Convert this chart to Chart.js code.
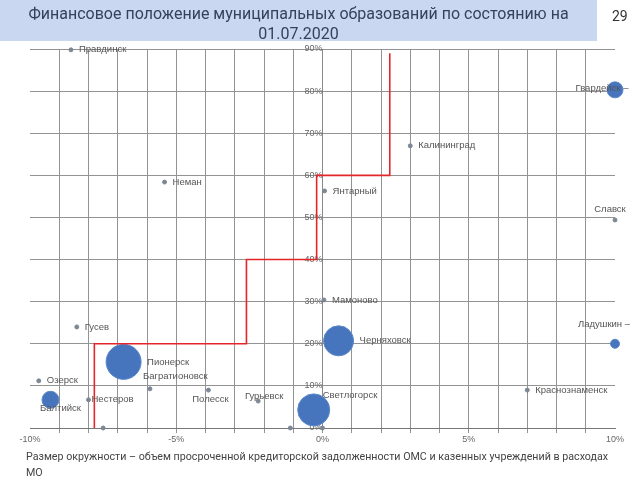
<!DOCTYPE html>
<html>
<head>
<meta charset="utf-8">
<script src="https://cdn.jsdelivr.net/npm/chart.js@4/dist/chart.umd.min.js"></script>
<style>
body{margin:0;width:640px;height:480px;position:relative;background:#fff;font-family:Roboto,"Liberation Sans",sans-serif;overflow:hidden}
#title{position:absolute;left:0;top:0;width:597px;height:37px;padding-top:4px;background:#c9d7f1;color:#34435a;font-size:16px;line-height:20px;text-align:center}
#page{position:absolute;left:612px;top:8px;font-size:14px;color:#333}
#note{position:absolute;left:26px;top:449px;width:610px;font-size:10.7px;line-height:16px;color:#444}
canvas{position:absolute;left:0;top:0}
</style>
</head>
<body>
<canvas id="bubbleChart" width="640" height="480"></canvas>
<div id="title">Финансовое положение муниципальных образований по состоянию на<br>01.07.2020</div>
<div id="page">29</div>
<div id="note">Размер окружности – объем просроченной кредиторской задолженности ОМС и казенных учреждений в расходах<br>МО</div>
<script>
// municipalities: x = change, %, y = share, %, debt = relative overdue debt (circle size)
let names = ["Правдинск","Неман","Гусев","Озерск","Балтийск","Нестеров","Пионерск","Багратионовск","Полесск","Гурьевск","","","","Светлогорск","Черняховск","Мамоново","Янтарный","Калининград","Гвардейск –","Славск","Ладушкин –","Краснознаменск"]
let xValues = [-8.6,-5.4,-8.4,-9.7,-9.3,-8.0,-6.8,-5.9,-3.9,-2.2,-7.5,-1.1,0,-0.3,0.55,0.05,0.07,3.0,10,10,10,7.0]
let yValues = [89.8,58.4,24.0,11.2,6.7,6.7,15.7,9.3,9.0,6.4,0,0,0,4.3,20.7,30.4,56.3,67.0,80.3,49.4,20.0,9.0]
let debt = [0,0,0,0,1.7,0,3.5,0,0,0,0,0,0,3.2,3.0,0,0,0,1.6,0,0.9,0]

// red threshold steps
let stepX = [-7.8,-2.6,-0.2,2.3]
let stepY = [0,20,40,60,89]

let xTicks = [-10,-5,0,5,10]

// label placement around each point: [dx, dy, align]
let labelPlace = {
"Балтийск":[10,9,"center"],
"Нестеров":[3,0,"left"],
"Багратионовск":[-7,-12,"left"],
"Полесск":[2,9,"center"],
"Гурьевск":[6,-5,"center"],
"Гвардейск –":[-13,-1,"center"],
"Славск":[-5,-11,"center"],
"Ладушкин –":[-11,-19,"center"],
"Светлогорск":[9,-15,"left"]
}

let bubbles = names.map((n,i)=>({x:xValues[i],y:yValues[i],r:debt[i]>0?debt[i]*5:2}))

let stepLine = []
stepX.forEach((sx,i)=>{
stepLine.push({x:sx,y:stepY[i]})
stepLine.push({x:sx,y:stepY[i+1]})
})

const pointLabels = {
id:"pointLabels",
afterDatasetsDraw(chart){
const c = chart.ctx
const meta = chart.getDatasetMeta(1)
c.save()
c.font = "9.5px 'Liberation Sans', Arial, sans-serif"
c.fillStyle = "#555"
c.textBaseline = "middle"
meta.data.forEach((el,i)=>{
let n = names[i]
if(!n) return
let r = bubbles[i].r
let p = labelPlace[n] || [r+6,0,"left"]
c.textAlign = p[2]
c.fillText(n, el.x+p[0], el.y+p[1])
})
c.restore()
}
}

new Chart(document.getElementById("bubbleChart"),{
type:"bubble",
data:{
datasets:[{
type:"line",
data:stepLine,
borderColor:"#e3262a",
borderWidth:1.6,
pointRadius:0,
fill:false,
order:0
},{
data:bubbles,
backgroundColor:ctx=>debt[ctx.dataIndex]>0?"#4775bd":"#7d8794",
borderColor:ctx=>debt[ctx.dataIndex]>0?"#5a86c8":"#7d8794",
borderWidth:1,
clip:false,
order:1
}]
},
options:{
responsive:false,
animation:false,
layout:{padding:{left:30,right:25,top:49,bottom:52}},
plugins:{legend:{display:false},tooltip:{enabled:false}},
scales:{
x:{
type:"linear",min:-10,max:10,position:{y:0},
grid:{color:ctx=>Math.abs(ctx.tick.value)===10?"rgba(0,0,0,0)":"#939393",lineWidth:1,tickLength:4},
border:{color:"#777"},
ticks:{stepSize:1,autoSkip:false,maxRotation:0,color:"#666",padding:2,font:{size:9},
callback:v=>xTicks.includes(v)?v+"%":""}
},
y:{
type:"linear",min:0,max:90,position:{x:0},
grid:{color:"#939393",lineWidth:1,tickLength:4},
border:{color:"#888"},
ticks:{stepSize:10,color:"#666",padding:1,font:{size:9},callback:v=>v+"%"}
}
}
},
plugins:[pointLabels]
})
</script>
</body>
</html>
